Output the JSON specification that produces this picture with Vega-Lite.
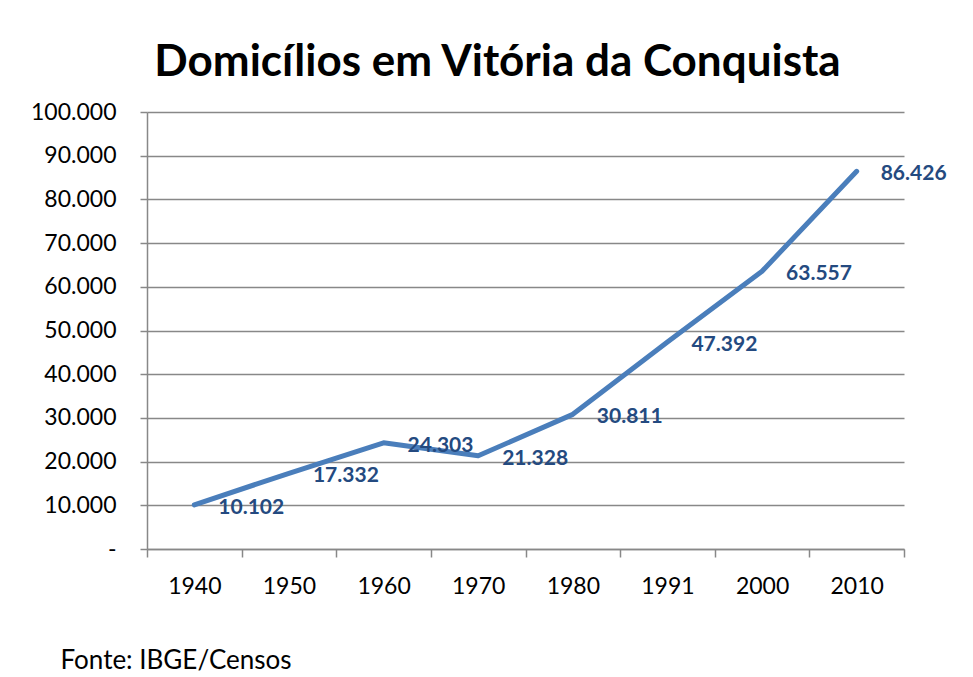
{
  "$schema": "https://vega.github.io/schema/vega-lite/v6.json",
  "width": 757,
  "height": 437,
  "autosize": "none",
  "padding": {"left": 147, "top": 112, "right": 69, "bottom": 128},
  "background": "white",
  "config": {
    "font": "Lato",
    "locale": {"number": {"decimal": ",", "thousands": ".", "grouping": [3], "currency": ["R$", ""]}},
    "view": {"stroke": null}
  },
  "title": {
    "text": "Domicílios em Vitória da Conquista",
    "fontSize": 44,
    "fontWeight": "bold",
    "color": "black",
    "anchor": "middle",
    "frame": "group",
    "dx": -28,
    "offset": 16
  },
  "data": {
    "values": [
      {"ano": "1940", "domicilios": 10102},
      {"ano": "1950", "domicilios": 17332},
      {"ano": "1960", "domicilios": 24303},
      {"ano": "1970", "domicilios": 21328},
      {"ano": "1980", "domicilios": 30811},
      {"ano": "1991", "domicilios": 47392},
      {"ano": "2000", "domicilios": 63557},
      {"ano": "2010", "domicilios": 86426}
    ]
  },
  "encoding": {
    "x": {
      "field": "ano",
      "type": "ordinal",
      "sort": null,
      "scale": {"paddingInner": 0, "paddingOuter": 0},
      "axis": {
        "title": "Fonte: IBGE/Censos",
        "titleFont": "Lato",
        "titleFontSize": 26,
        "titleFontWeight": "normal",
        "titleColor": "black",
        "titleAnchor": "start",
        "titleAlign": "left",
        "titleBaseline": "middle",
        "titleX": -87,
        "titleY": 111,
        "labelAngle": 0,
        "labelFontSize": 23,
        "labelColor": "black",
        "labelPadding": 18,
        "tickBand": "extent",
        "tickSize": 8,
        "tickColor": "#888888",
        "tickWidth": 1.5,
        "domainColor": "#888888",
        "domainWidth": 1.5,
        "grid": false
      }
    },
    "y": {
      "field": "domicilios",
      "type": "quantitative",
      "scale": {"domain": [0, 100000], "nice": false},
      "axis": {
        "title": null,
        "values": [0, 10000, 20000, 30000, 40000, 50000, 60000, 70000, 80000, 90000, 100000],
        "format": ",d",
        "labelExpr": "datum.value == 0 ? '-\u00a0\u00a0\u00a0\u00a0' : datum.label",
        "labelFontSize": 23,
        "labelColor": "black",
        "labelPadding": 24,
        "tickSize": 7,
        "tickColor": "#888888",
        "tickWidth": 1.5,
        "domainColor": "#888888",
        "domainWidth": 1.5,
        "grid": true,
        "gridColor": "#888888",
        "gridWidth": 1.5
      }
    }
  },
  "layer": [
    {
      "mark": {"type": "line", "color": "#4a7ebb", "strokeWidth": 5, "strokeCap": "round", "strokeJoin": "round"}
    },
    {
      "mark": {"type": "text", "align": "left", "baseline": "middle", "dx": 24, "dy": 3, "fontSize": 21, "fontWeight": "bold", "color": "#244a80"},
      "encoding": {
        "text": {"field": "domicilios", "type": "quantitative", "format": ",d"}
      }
    }
  ]
}
